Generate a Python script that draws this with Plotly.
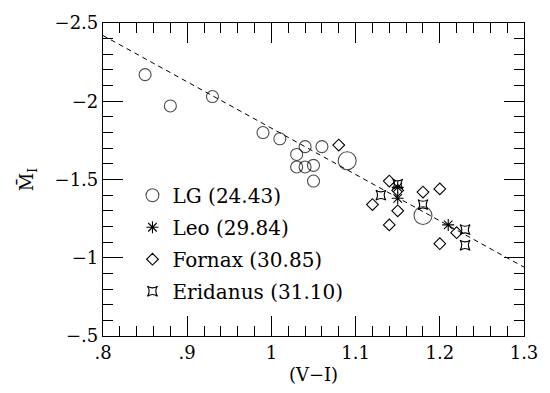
import plotly.graph_objects as go

# ---- data ----
lg_x = [0.85, 0.88, 0.93, 0.99, 1.01, 1.04, 1.06, 1.03, 1.03, 1.04, 1.05, 1.05, 1.09, 1.18]
lg_y = [-2.17, -1.97, -2.03, -1.80, -1.76, -1.71, -1.71, -1.66, -1.58, -1.58, -1.59, -1.49, -1.62, -1.27]
lg_large = [False] * 12 + [True, True]

leo_x = [1.15, 1.15, 1.21]
leo_y = [-1.45, -1.38, -1.21]

fornax_x = [1.08, 1.14, 1.12, 1.15, 1.15, 1.14, 1.18, 1.20, 1.20, 1.22]
fornax_y = [-1.72, -1.49, -1.34, -1.43, -1.30, -1.21, -1.42, -1.44, -1.09, -1.16]

eridanus_x = [1.13, 1.15, 1.18, 1.23, 1.23]
eridanus_y = [-1.40, -1.47, -1.34, -1.18, -1.08]

fit_x = [0.8, 1.3]
fit_y = [-2.42, -0.94]

series_names = ["LG (24.43)", "Leo (29.84)", "Fornax (30.85)", "Eridanus (31.10)"]

x_tickvals = [0.8, 0.9, 1.0, 1.1, 1.2, 1.3]
x_ticktext = [".8", ".9", "1", "1.1", "1.2", "1.3"]
y_tickvals = [-2.5, -2.0, -1.5, -1.0, -0.5]
y_ticktext = ["\u22122.5", "\u22122", "\u22121.5", "\u22121", "\u2212.5"]

FONT = "DejaVu Serif"
BLACK = "black"

fig = go.Figure()

fig.add_trace(go.Scatter(
    x=fit_x, y=fit_y, mode="lines", showlegend=False,
    line=dict(color=BLACK, width=1, dash="5px,4px"), hoverinfo="skip"))

fig.add_trace(go.Scatter(
    x=lg_x, y=lg_y, mode="markers", name=series_names[0], legendgroup="a",
    marker=dict(symbol="circle-open", size=[18 if b else 12 for b in lg_large],
                color=BLACK, line=dict(width=1.1, color=BLACK))))

fig.add_trace(go.Scatter(
    x=leo_x, y=leo_y, mode="markers", name=series_names[1], legendgroup="b",
    marker=dict(symbol="asterisk-open", size=10, color=BLACK,
                line=dict(width=1.1, color=BLACK))))

fig.add_trace(go.Scatter(
    x=fornax_x, y=fornax_y, mode="markers", name=series_names[2], legendgroup="c",
    marker=dict(symbol="diamond-open", size=9, color=BLACK,
                line=dict(width=1.1, color=BLACK))))

fig.add_trace(go.Scatter(
    x=eridanus_x, y=eridanus_y, mode="markers", name=series_names[3], legendgroup="d",
    marker=dict(symbol="star-square-open", size=9, color=BLACK,
                line=dict(width=1.1, color=BLACK))))

axis_common = dict(
    showgrid=False, zeroline=False, showline=True, linecolor=BLACK, linewidth=1.2,
    mirror="allticks", ticks="inside", ticklen=20, tickwidth=1, tickcolor=BLACK,
    tickfont=dict(family=FONT, size=18, color=BLACK),
)

fig.update_layout(
    width=550, height=393,
    margin=dict(l=103, r=21, t=15, b=53),
    paper_bgcolor="white", plot_bgcolor="white",
    font=dict(family=FONT, color=BLACK),
    xaxis=dict(
        range=[0.8, 1.3], tickvals=x_tickvals, ticktext=x_ticktext,
        minor=dict(dtick=0.02, tick0=0.8, ticks="inside", ticklen=10, tickwidth=1, tickcolor=BLACK),
        title=dict(text="(V\u2212I)", font=dict(family=FONT, size=18, color=BLACK), standoff=6),
        **axis_common),
    yaxis=dict(
        range=[-0.5, -2.5], tickvals=y_tickvals, ticktext=y_ticktext,
        minor=dict(dtick=0.1, tick0=-2.5, ticks="inside", ticklen=10, tickwidth=1, tickcolor=BLACK),
        title=dict(text="M\u0304<sub>I</sub>", font=dict(family=FONT, size=18, color=BLACK), standoff=16),
        **axis_common),
    legend=dict(
        x=0.07, y=0.512, xanchor="left", yanchor="top",
        bgcolor="rgba(0,0,0,0)", borderwidth=0,
        font=dict(family=FONT, size=20, color=BLACK),
        traceorder="grouped", tracegroupgap=3,
        itemwidth=30,
    ),
)

fig.write_html("out.html")
